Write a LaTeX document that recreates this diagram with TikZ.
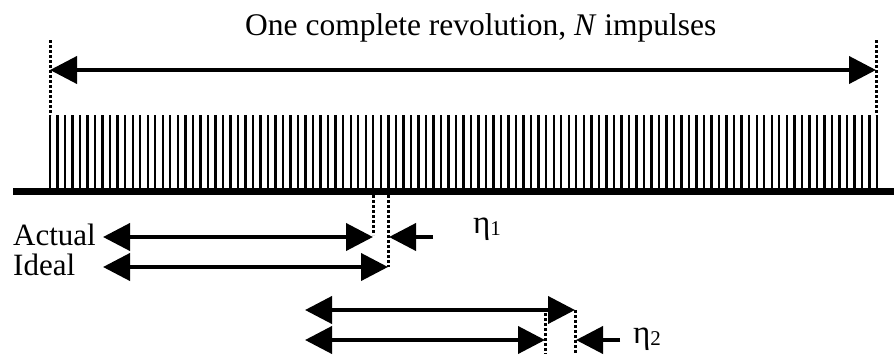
\documentclass[tikz,border=0pt]{standalone}
\usepackage{fontspec}
\setmainfont{Liberation Serif}
\usetikzlibrary{arrows.meta}
\tikzset{
  dim/.style={line width=4pt, {Triangle[length=27pt,width=27pt]}-{Triangle[length=27pt,width=27pt]}},
  onearrow/.style={line width=4pt, -{Triangle[length=27pt,width=27pt]}},
  guide/.style={line width=3pt, dash pattern=on 3pt off 2pt},
  pulse/.style={line width=2.4pt},
  axis/.style={line width=7pt},
  lbl/.style={inner sep=0pt, font=\fontsize{31}{31}\selectfont},
  ttl/.style={inner sep=0pt, font=\fontsize{31.5}{31.5}\selectfont},
  eta/.style={inner sep=0pt, font=\fontsize{33}{33}\selectfont}
}
\newcommand{\etasub}[1]{η\raisebox{-2pt}{\fontsize{21}{21}\selectfont #1}}
\begin{document}
\begin{tikzpicture}[x=1pt,y=-1pt]
\useasboundingbox (0,0) rectangle (894,354);
% title
\node[ttl, anchor=base west] (title) at (245,35) {One complete revolution, \textit{N} impulses};
% axis
\coordinate (axL) at (13,191.5);
\coordinate (axR) at (894,191.5);
\draw[axis] (axL) -- (axR);
% impulses
\foreach \i in {0,...,110} {
  \draw[pulse] ({50+\i*7.5182},115) -- ({50+\i*7.5182},188.5);
}
% top guides and arrow
\coordinate (gL1) at (50,40);
\coordinate (gL2) at (50,115);
\coordinate (gR1) at (876,40);
\coordinate (gR2) at (876,115);
\draw[guide] (gL1) -- (gL2);
\draw[guide] (gR1) -- (gR2);
\coordinate (tL) at (50,70);
\coordinate (tR) at (876,70);
\draw[dim] (tL) -- (tR);
% first pair
\node[lbl, anchor=base west] (actual) at (13,245) {Actual};
\node[lbl, anchor=base west] (ideal) at (13,275) {Ideal};
\coordinate (aL) at (103,237);
\coordinate (aR) at (373,237);
\coordinate (iL) at (103,267);
\coordinate (iR) at (388,267);
\draw[dim] (aL) -- (aR);
\draw[dim] (iL) -- (iR);
\coordinate (d1t) at (373,195);
\coordinate (d1b) at (373,235);
\coordinate (d2t) at (388,195);
\coordinate (d2b) at (388,267);
\draw[guide] (d1t) -- (d1b);
\draw[guide] (d2t) -- (d2b);
\coordinate (e1t) at (433,237);
\coordinate (e1h) at (389,237);
\draw[onearrow] (e1t) -- (e1h);
\node[eta, anchor=base west] (eta1) at (473,233) {\etasub{1}};
% second pair
\coordinate (bL) at (305,310);
\coordinate (bR) at (575,310);
\coordinate (cL) at (305,340);
\coordinate (cR) at (545,340);
\draw[dim] (bL) -- (bR);
\draw[dim] (cL) -- (cR);
\coordinate (d3t) at (545,313);
\coordinate (d3b) at (545,354);
\coordinate (d4t) at (575,310);
\coordinate (d4b) at (575,354);
\draw[guide] (d3t) -- (d3b);
\draw[guide] (d4t) -- (d4b);
\coordinate (e2t) at (620,340);
\coordinate (e2h) at (576,340);
\draw[onearrow] (e2t) -- (e2h);
\node[eta, anchor=base west] (eta2) at (633,343) {\etasub{2}};
\end{tikzpicture}
\end{document}
